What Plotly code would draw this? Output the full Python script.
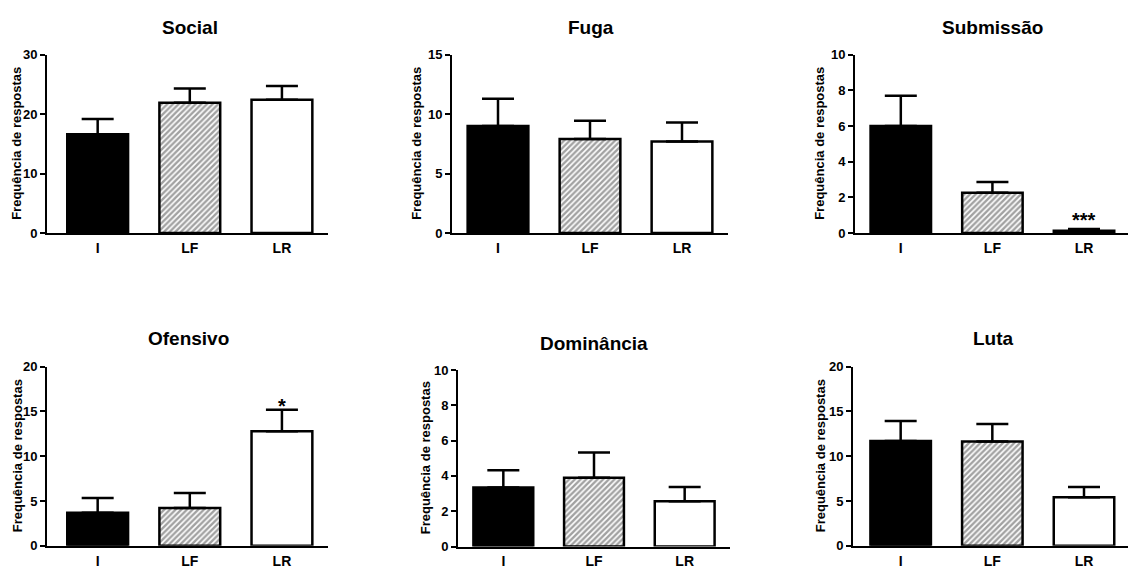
import plotly.graph_objects as go

# ---------------- data ----------------
categories = ["I", "LF", "LR"]
titles = ["Social", "Fuga", "Submissão", "Ofensivo", "Dominância", "Luta"]
mean_I = [16.6, 9.0, 6.0, 3.7, 3.35, 11.7]
mean_LF = [21.9, 7.9, 2.26, 4.24, 3.9, 11.65]
mean_LR = [22.4, 7.7, 0.12, 12.8, 2.57, 5.43]
sem_I = [2.6, 2.3, 1.7, 1.65, 0.97, 2.25]
sem_LF = [2.4, 1.55, 0.6, 1.65, 1.43, 1.95]
sem_LR = [2.35, 1.6, 0.1, 2.4, 0.8, 1.15]
y_max = [30, 15, 10, 20, 10, 20]
y_step = [10, 5, 2, 5, 2, 5]
signif = ["", "", "***", "*", "", ""]
y_label = "Frequência de respostas"

# ---------------- layout geometry (pixels) ----------------
W, H = 1129, 575
# left, right, top, bottom of each plot area
boxes = [
    (47, 328, 49, 232),
    (452, 728, 49, 232),
    (855, 1128, 49, 232),
    (47, 328, 369.3, 553.3),
    (458, 730, 372.7, 554),
    (853, 1128, 369.3, 553.3),
]
x_ranges = [(-0.55, 2.5), (-0.5, 2.5), (-0.5, 2.48), (-0.55, 2.5), (-0.5, 2.5), (-0.52, 2.48)]
title_pos = [(190, 21), (591, 21), (992, 21), (188, 340), (594, 345), (993, 340)]
ylab_x = [17, 417, 820, 17, 425, 820]
sig_shift = [0, 0, -4, -9, 0, 0]

FONT = "Liberation Sans, Arial, sans-serif"

fig = go.Figure()
annotations = []
layout_axes = {}

for i in range(6):
    k = "" if i == 0 else str(i + 1)
    l, r, t, b = boxes[i]
    means = [mean_I[i], mean_LF[i], mean_LR[i]]
    errs = [sem_I[i], sem_LF[i], sem_LR[i]]
    fig.add_trace(go.Bar(
        x=categories, y=means,
        xaxis="x" + k, yaxis="y" + k,
        width=0.66,
        marker=dict(
            color=["black", "white", "white"],
            line=dict(color="black", width=2.5),
            pattern=dict(shape=["", "/", ""], fgcolor="black", bgcolor="white",
                         size=4, solidity=0.6),
        ),
        error_y=dict(type="data", symmetric=False, array=errs, arrayminus=[0, 0, 0],
                     color="black", thickness=2.5, width=16),
        showlegend=False,
        hoverinfo="skip",
    ))
    layout_axes["xaxis" + k] = dict(
        domain=[l / W, r / W], anchor="y" + k, range=list(x_ranges[i]),
        showline=True, linecolor="black", linewidth=2,
        ticks="outside", ticklen=1, tickcolor="rgba(0,0,0,0)",
        tickfont=dict(family=FONT, size=14, color="black", weight="bold"),
        showgrid=False, zeroline=False, fixedrange=True,
    )
    layout_axes["yaxis" + k] = dict(
        domain=[1 - b / H, 1 - t / H], anchor="x" + k, range=[0, y_max[i]],
        tick0=0, dtick=y_step[i],
        showline=True, linecolor="black", linewidth=2,
        ticks="outside", ticklen=5, tickwidth=2, tickcolor="black",
        tickfont=dict(family=FONT, size=13, color="black", weight="bold"),
        showgrid=False, zeroline=False, fixedrange=True,
    )
    tx, ty = title_pos[i]
    annotations.append(dict(
        text=titles[i], xref="paper", yref="paper", x=tx / W, y=1 - ty / H,
        xanchor="center", yanchor="middle", showarrow=False,
        font=dict(family=FONT, size=19, color="black", weight="bold"),
    ))
    annotations.append(dict(
        text=y_label, xref="paper", yref="paper", x=ylab_x[i] / W, y=1 - ((t + b) / 2) / H,
        xanchor="center", yanchor="middle", textangle=-90, showarrow=False,
        font=dict(family=FONT, size=13, color="black", weight="bold"),
    ))
    if signif[i]:
        annotations.append(dict(
            text=signif[i], xref="x" + k, yref="y" + k, x=2, y=means[2] + errs[2],
            xanchor="center", yanchor="bottom", showarrow=False, yshift=sig_shift[i],
            font=dict(family=FONT, size=20, color="black", weight="bold"),
        ))

fig.update_layout(
    width=W, height=H,
    margin=dict(l=0, r=0, t=0, b=0),
    paper_bgcolor="white", plot_bgcolor="white",
    annotations=annotations,
    bargap=0.3,
    **layout_axes,
)

fig.write_html("out.html", config={"displayModeBar": False})
